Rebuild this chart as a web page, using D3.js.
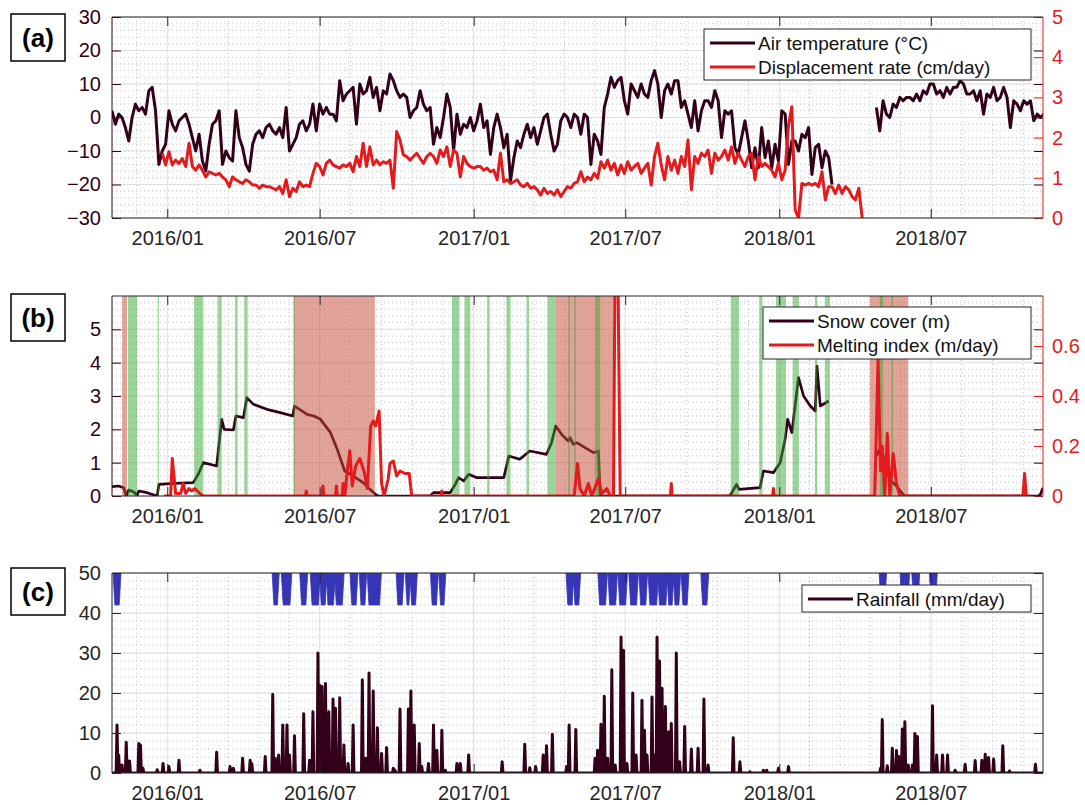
<!DOCTYPE html>
<html>
<head>
<meta charset="utf-8">
<script src="https://cdn.jsdelivr.net/npm/d3@7"></script>
<style>
  body { margin: 0; background: #fff; }
  svg { display: block; }
</style>
</head>
<body>
<svg id="chart" width="1085" height="805"></svg>
<script>
// All day numbers are days since 2016-01-01.
const xTickLabels = ["2016/01", "2016/07", "2017/01", "2017/07", "2018/01", "2018/07"];

// (a) air temperature, sampled every 4 days, in two runs (gap in spring 2018)
const tempStartA = -66;
const tempA = [
  2, -2, 1, 0, -3, -7, 0, 4, 2, 3, 1, 8, 9, 2, -14, -10, -8, 2, -2, -4,
  -1, 0, 1, -2, -6, -10, -5, -13, -16, -8, -2, -1, 2, -14, -10, -12, -13, 2, -6, -9,
  -14, -16, -8, -5, -4, -6, -3, -2, -4, -5, -3, -6, 3, -10, -8, -6, -2, -1, -4, -2,
  4, -4, 4, 1, 3, 1, 1, -1, 11, 5, 7, 8, 9, -2, 10, 7, 8, 12, 6, 9,
  2, 8, 7, 13, 11, 8, 6,
  7, 6, 0, 2, 3, 8, 4, 2, 3, -8, -3, -6, 0, 7, 3, -10, 1, -5, -2, -3,
  0, -4, -1, 4, -3, -1, -11, -3, 1, -3, -9, -5, -19, -12, -7, -9, -5, -2, -6, -3,
  -8, -4, 0, 1, -5, -10, -8, -1, 1, 0, -3, 1, 0, -5, 1, 0, -14, -5, -7, -11,
  3, 7, 12, 9, 11, 12, 5, 1, 10, 8, 6, 10, 7, 6, 11, 14, 10, 0, 8, 10,
  7, 11, 11, 3, 5, 1, -3, 5, -4, 2, 5, 5, 3, 8, 5, -6, 2, 1, 2, -9,
  -11, -6, -1, -7, -15, -9, -15, -3, -12, -7, -15, -8, -13, 2,
  1, -14, -7, -7, -10, -5, -6, -3, -17, -9, -8, -15, -10, -12, -20
];
const tempStartB = 847;
const tempB = [
  3, -4, 5, 1, 0, 4, 3, 6, 5, 6, 6, 5, 7, 5, 8, 7, 10, 10, 7, 8,
  6, 9, 7, 9, 9, 11, 10, 7, 7, 8, 5, 8, 1, 7, 6, 9, 5, 6, 9, 6,
  -3, 5, 4, 2, 5, 4, 5, -1, 1, 0, 1
];
const tempStep = 4;

// (a) displacement rate (cm/day), every 4 days
const dispStart = -6;
const disp = [
  1.61, 1.32, 1.65, 1.32, 1.44, 1.36, 1.48, 1.28, 1.86, 1.28, 1.19, 1.32, 1.19, 1.02, 1.15, 1.11, 1.07, 1.11, 1.02, 0.95,
  0.78, 1.02, 0.95, 0.90, 0.86, 0.95, 0.90, 0.82, 0.82, 0.74, 0.82, 0.78, 0.78, 0.74, 0.70, 0.78, 0.61, 0.95, 0.53, 0.74,
  0.66, 0.90, 0.78, 0.82, 0.78, 1.11, 1.36, 1.28, 1.07, 1.36, 1.44, 1.32, 1.28, 1.24, 1.32, 1.28, 1.36, 1.15, 1.53, 1.28,
  1.86, 1.28, 1.77, 1.32, 1.44, 1.32, 1.40, 1.36, 1.44, 0.74, 2.15, 1.94,
  1.57, 1.53, 1.44, 1.53, 1.61, 1.48, 1.36, 1.53, 1.61, 1.53, 1.36, 1.69, 1.53, 1.77, 1.28, 1.69, 1.61, 1.02, 1.53, 1.36,
  1.28, 1.24, 1.28, 1.28, 1.19, 1.24, 1.15, 1.19, 0.95, 1.61, 0.90, 0.95, 0.86, 0.90, 0.95, 0.82, 0.78, 0.86, 0.74, 0.78,
  0.70, 0.57, 0.74, 0.61, 0.66, 0.57, 0.70, 0.53, 0.66, 0.78, 0.74, 0.86, 0.90, 1.15, 0.90, 1.02, 0.95, 1.11, 0.99, 1.40,
  1.24, 1.44, 1.19, 1.36, 1.07, 1.32, 1.11, 1.40, 1.19, 1.28, 1.36, 1.11, 1.24, 1.36, 0.82, 1.53, 1.86, 1.32, 0.95, 1.53,
  1.19, 1.44, 1.11, 1.53, 1.28, 1.94, 0.70, 1.53, 1.36, 1.61, 1.53, 1.69, 1.11, 1.61, 1.44, 1.53, 1.69, 1.44, 1.77, 1.36,
  1.61, 1.44, 1.28, 1.53, 1.61, 0.95, 1.53, 1.28, 1.36, 1.28, 1.19, 1.02, 1.36, 0.95,
  1.19, 2.3, 2.77, 0.2, 0, 0.86, 0.82, 0.86, 0.82, 0.86, 0.78, 1.15, 0.45, 0.78, 0.78, 0.61, 0.82, 0.61, 0.78, 0.70,
  0.53, 0.45, 0.74, 0
];

// (b) snow cover (m), [day, value]; null = no data
const snow = [
  [-66, 0.28], [-58, 0.3], [-52, 0.25], [-49, 0], [-46, 0.18], [-40, 0.12], [-36, 0.02], [-34, 0.15], [-24, 0.1], [-12, 0],
  [-10, 0.35], [8, 0.38], [31, 0.4], [37, 0.65], [43, 1.0], [59, 0.9], [62, 1.6], [65, 2.3], [68, 2.0], [79, 1.98],
  [82, 2.4], [91, 2.35], [95, 2.95], [103, 2.75], [119, 2.6], [135, 2.5], [150, 2.4], [152, 2.7], [167, 2.45], [175, 2.4],
  [183, 2.3], [195, 1.9], [203, 1.4], [212, 0.75], [222, 0.6], [234, 0.4], [242, 0.2], [250, 0.02], [253, 0], [314, 0],
  [318, 0.1], [338, 0.1], [344, 0.35], [348, 0.55], [354, 0.45], [360, 0.65], [370, 0.55], [402, 0.55], [408, 1.2], [421, 1.1],
  [433, 1.35], [453, 1.25], [459, 1.6], [464, 2.1], [471, 1.85], [479, 1.65], [481, 1.75], [485, 1.55], [489, 1.6], [509, 1.3],
  [515, 1.35], [517, 0], [672, 0], [680, 0.35], [683, 0.2], [708, 0.25], [712, 0.75], [724, 0.7], [732, 1.0], [738, 1.7],
  [741, 2.3], [746, 1.9], [754, 3.55], [760, 3.0], [768, 2.7], [774, 2.55], [776, 3.9], [780, 2.7], [790, 2.85], [820, null],
  [847, 1.2], [853, 1.5], [857, 0.9], [863, 0.5], [871, 0.3], [877, 0.1], [881, 0], [1040, 0], [1043, 0.05], [1046, 0.25]
];

// (b) melting index (m/day), [day, value]
const melt = [
  [-4, 0], [4, 0], [6, 0.15], [10, 0.01], [16, 0.01], [19, 0.05], [22, 0.01], [26, 0.03], [29, 0.02], [33, 0.03],
  [39, 0.01], [43, 0], [165, 0], [166, 0.02], [167, 0], [185, 0], [186, 0.04], [187, 0], [201, 0], [202, 0.04],
  [203, 0], [209, 0], [210, 0.05], [212, 0], [215, 0.1], [218, 0.18], [221, 0.04], [225, 0.12], [230, 0.15], [235, 0.1],
  [239, 0.03], [243, 0.28], [246, 0.3], [249, 0.28], [253, 0.34], [256, 0.05], [259, 0], [264, 0.07], [266, 0.13], [270, 0.14],
  [274, 0.08], [278, 0.1], [284, 0.09], [289, 0.09], [292, 0], [327, 0], [328, 0.02], [329, 0], [486, 0], [490, 0.13],
  [493, 0.03], [498, 0], [503, 0.05], [507, 0], [515, 0.07], [519, 0.01], [525, 0.03], [529, 0], [533, 0], [535, 1.0],
  [538, 1.0], [541, 0], [601, 0], [602, 0.05], [603, 0], [723, 0], [724, 0.03], [725, 0], [845, 0], [849, 0.55],
  [852, 0.1], [854, 0.2], [857, 0], [860, 0.25], [863, 0], [867, 0.17], [871, 0.05], [875, 0], [1022, 0], [1024, 0.09],
  [1026, 0], [1030, 0]
];

// (b) shaded periods, [first day, last day]
const meltPeriods = [[-54, -48], [151, 248], [464, 533], [839, 885]];
const snowfallPeriods = [
  [-47, -36], [-11.5, -10], [32, 43], [60, 65], [81, 84], [92, 96], [151, 152], [340, 349], [355, 362], [382, 385],
  [405, 410], [429, 432], [454, 464], [479, 481], [486, 488], [511, 517], [673, 683], [707, 711], [727, 739], [747, 754.5],
  [773.6, 776.4], [785.5, 791.5], [851, 855], [865, 867]
];

// (c) rainfall (mm/day) on rainy days, [day, value]
const rainfall = [
  [-60, 12], [-58, 4.5], [-54, 2], [-49, 7.7], [-45, 3], [-34, 7.4], [-32, 7], [-29, 1.2], [-12, 0.8], [-5, 2.4],
  [2, 1.6], [14, 3.2], [39, 0.7], [59, 5.2], [75, 1.6], [79, 1.2], [90, 3.7], [99, 3.2], [101, 2.4], [117, 4.1],
  [126, 19.7], [129, 3.7], [133, 4.5], [138, 12], [143, 12], [146, 4.5], [152, 9.3], [163, 14.8], [170, 3.2], [174, 15.3],
  [180, 30], [182, 22], [185, 21.6], [189, 22.4], [193, 15.3], [198, 18.5], [201, 16.2], [206, 18.8], [211, 7], [216, 2.4],
  [222, 12], [233, 23.3], [237, 3.7], [241, 25], [246, 20.5], [251, 11.3], [256, 4.9], [262, 6.4], [270, 1.2], [272, 0.7],
  [278, 16], [288, 16], [291, 20.5], [295, 12], [301, 7.4], [304, 1.6], [312, 2.4], [318, 12], [322, 5.7], [328, 10.7],
  [332, 0.7], [346, 2.4], [350, 2.4], [360, 4.5], [400, 2.8], [427, 7.2], [433, 1.3], [440, 1.6], [449, 4.5], [453, 6.8],
  [460, 9.7], [477, 1.6], [480, 12], [488, 10.9], [511, 3.7], [514, 5.7], [518, 12.2], [522, 19.2], [526, 3.7], [531, 25.8],
  [535, 2], [542, 34], [545, 30.7], [549, 2.4], [556, 20], [560, 4.5], [567, 18.2], [570, 10.7], [573, 4.5], [579, 19],
  [582, 4.5], [585, 34], [588, 28], [591, 21.2], [595, 16.6], [599, 10.3], [602, 12.4], [608, 30], [612, 2.8], [618, 11.6],
  [626, 6], [634, 6.2], [641, 18.5], [646, 2], [676, 8.8], [684, 2.8], [696, 0.3], [712, 0.7], [716, 0.7], [730, 1.2],
  [742, 1.6], [852, 1.2], [854, 13.4], [860, 1.8], [866, 6.2], [871, 5.6], [874, 4.1], [878, 11], [881, 12.8], [885, 2],
  [890, 2], [893, 9.9], [896, 9.1], [914, 16.8], [919, 4.5], [926, 4.5], [932, 4.5], [941, 0.7], [953, 2.2], [965, 3.1],
  [973, 3.2], [977, 4.7], [981, 3.9], [987, 3.5], [998, 6.8], [1006, 0.5], [1037, 2.2]
];
// (c) rain event markers, drawn between markLow and markHigh (mm/day axis)
const rainEventStart = [-64, 126, 137, 159, 171.5, 182.5, 190.5, 200.5, 219, 230, 239.5, 274, 285, 290.5, 315, 325, 477, 485.5,
  515, 527, 539, 552, 564, 575, 586.5, 597.5, 605, 614.4, 638, 851, 876, 880.5, 890, 911];
const rainEventEnd = [-56, 133, 148, 167, 182, 190, 200, 210.5, 227, 237.5, 255, 282, 290, 298, 323, 332, 485, 493,
  525, 537, 549, 562, 573, 586, 597, 604.5, 612.5, 622.4, 646, 858.4, 880, 886, 898, 919];
const markLow = 42, markHigh = 50;

// ---------------------------------------------------------------
const FONT = '"Liberation Sans", Arial, Helvetica, sans-serif';
const dark = "#33001a";
const red = "#e41a1c";
const blue = "#3535b5";
const ink = "#262626";

const svg = d3.select("#chart").attr("font-family", FONT);
const origin = new Date(2016, 0, 1);
const day = (d) => new Date(+origin + d * 864e5);

const left = 112, right = 1043;
const x = d3.scaleTime().domain([day(-66), day(1046)]).range([left, right]);

const majors = xTickLabels.map(d3.timeParse("%Y/%m"));
const ext = [d3.timeMonth.offset(majors[0], -6), ...majors, d3.timeMonth.offset(majors[majors.length - 1], 6)];
const minors = [];
for (let i = 0; i < ext.length - 1; i++)
  for (let k = 1; k < 5; k++) {
    const t = new Date(+ext[i] + ((ext[i + 1] - ext[i]) * k) / 5);
    if (t > x.domain()[0] && t < x.domain()[1]) minors.push(t);
  }

const yFmt = d3.format("~g");

function panel({ id, top, bottom, yL, leftTicks, leftMinor, leftColor, labelColor, yR, rightTicks, rightColor }) {
  const g = svg.append("g");
  // grid
  const grid = g.append("g");
  grid.selectAll("line.vmin").data(minors).join("line").attr("class", "vmin")
    .attr("x1", (d) => x(d)).attr("x2", (d) => x(d)).attr("y1", top).attr("y2", bottom);
  grid.selectAll("line.hmin").data(leftMinor).join("line").attr("class", "hmin")
    .attr("x1", left).attr("x2", right).attr("y1", (d) => yL(d)).attr("y2", (d) => yL(d));
  grid.selectAll("line.vmin, line.hmin")
    .attr("stroke", "#b5b5b5").attr("stroke-width", 0.8).attr("stroke-dasharray", "1,3");
  grid.selectAll("line.vmaj").data(majors).join("line").attr("class", "vmaj")
    .attr("x1", (d) => x(d)).attr("x2", (d) => x(d)).attr("y1", top).attr("y2", bottom)
    .attr("stroke", "#dedede");
  grid.selectAll("line.hmaj").data(leftTicks).join("line").attr("class", "hmaj")
    .attr("x1", left).attr("x2", right).attr("y1", (d) => yL(d)).attr("y2", (d) => yL(d))
    .attr("stroke", "#dedede");

  svg.append("clipPath").attr("id", "clip-" + id)
    .append("rect").attr("x", left).attr("y", top).attr("width", right - left).attr("height", bottom - top);
  const data = g.append("g").attr("clip-path", `url(#clip-${id})`);
  const axes = g.append("g");

  const style = (sel, color, size = 20) => {
    sel.attr("font-family", FONT).attr("font-size", size).attr("color", color);
    sel.select(".domain").remove();
  };
  // left axis
  axes.append("g").attr("transform", `translate(${left},0)`)
    .call(d3.axisLeft(yL).tickValues(leftTicks).tickFormat(yFmt).tickSize(-9).tickPadding(11))
    .call((s) => style(s, leftColor))
    .call((s) => s.selectAll("text").attr("fill", labelColor));
  // mirrored left ticks on right edge
  axes.append("g").attr("transform", `translate(${right},0)`)
    .call(d3.axisRight(yL).tickValues(leftTicks).tickFormat("").tickSize(-9))
    .call((s) => style(s, leftColor));
  if (yR) {
    axes.append("g").attr("transform", `translate(${right},0)`)
      .call(d3.axisRight(yR).tickValues(rightTicks).tickFormat(yFmt).tickSize(-9).tickPadding(9))
      .call((s) => style(s, rightColor));
  }
  axes.append("g").attr("transform", `translate(0,${bottom})`)
    .call(d3.axisBottom(x).tickValues(majors).tickFormat(d3.timeFormat("%Y/%m")).tickSize(-9).tickPadding(13))
    .call((s) => style(s, ink));
  axes.append("g").attr("transform", `translate(0,${top})`)
    .call(d3.axisTop(x).tickValues(majors).tickFormat("").tickSize(-9))
    .call((s) => style(s, ink));
  // frame
  axes.append("line").attr("x1", left).attr("x2", right).attr("y1", top).attr("y2", top).attr("stroke", ink);
  axes.append("line").attr("x1", left).attr("x2", right).attr("y1", bottom).attr("y2", bottom).attr("stroke", ink);
  axes.append("line").attr("x1", left).attr("x2", left).attr("y1", top).attr("y2", bottom).attr("stroke", leftColor);
  axes.append("line").attr("x1", right).attr("x2", right).attr("y1", top).attr("y2", bottom)
    .attr("stroke", yR ? rightColor : ink);
  return { g, data, axes };
}

function legend(x0, y0, w, h, items) {
  const g = svg.append("g");
  g.append("rect").attr("x", x0).attr("y", y0).attr("width", w).attr("height", h)
    .attr("fill", "#fff").attr("stroke", ink);
  items.forEach((it, i) => {
    const cy = y0 + 14 + i * 24;
    g.append("line").attr("x1", x0 + 6).attr("x2", x0 + 51).attr("y1", cy).attr("y2", cy)
      .attr("stroke", it.color).attr("stroke-width", 3);
    g.append("text").attr("x", x0 + 54).attr("y", cy).attr("dy", "0.35em")
      .attr("font-size", 19).attr("fill", "#111").text(it.label);
  });
}

function tag(y, text) {
  svg.append("rect").attr("x", 11).attr("y", y).attr("width", 54).attr("height", 47)
    .attr("fill", "#fff").attr("stroke", "#000").attr("stroke-width", 1.5);
  svg.append("text").attr("x", 38).attr("y", y + 24).attr("text-anchor", "middle").attr("dy", "0.35em")
    .attr("font-weight", "bold").attr("font-size", 26).attr("fill", "#000").text(text);
}

const series = (start, vals) => vals.map((v, i) => ({ t: day(start + i * tempStep), v }));
const pairs = (arr) => arr.map(([d, v]) => ({ t: day(d), v }));

// ---------- (a) ----------
{
  const yL = d3.scaleLinear([-30, 30], [218, 17]);
  const yR = d3.scaleLinear([0, 5], [218, 17]);
  const p = panel({
    id: "a", top: 17, bottom: 218, yL, leftTicks: d3.range(-30, 31, 10), leftMinor: d3.range(-28, 30, 2),
    leftColor: dark, labelColor: dark, yR, rightTicks: d3.range(0, 6), rightColor: red
  });
  const lineL = d3.line().x((d) => x(d.t)).y((d) => yL(d.v));
  const lineR = d3.line().x((d) => x(d.t)).y((d) => yR(d.v));
  p.data.selectAll("path.temp").data([series(tempStartA, tempA), series(tempStartB, tempB)]).join("path")
    .attr("class", "temp").attr("d", lineL).attr("fill", "none").attr("stroke", dark)
    .attr("stroke-width", 3).attr("stroke-linejoin", "round");
  p.data.append("path").datum(series(dispStart, disp)).attr("d", lineR).attr("fill", "none")
    .attr("stroke", red).attr("stroke-width", 3).attr("stroke-linejoin", "round");
  legend(704, 29, 327, 51, [
    { label: "Air temperature (°C)", color: dark },
    { label: "Displacement rate (cm/day)", color: red }
  ]);
  tag(14, "(a)");
}

// ---------- (b) ----------
{
  const yL = d3.scaleLinear([0, 6], [496, 296]);
  const yR = d3.scaleLinear([0, 0.8], [496, 296]);
  const p = panel({
    id: "b", top: 296, bottom: 496, yL, leftTicks: d3.range(0, 6), leftMinor: d3.range(1, 30).map((d) => d / 5),
    leftColor: dark, labelColor: dark, yR, rightTicks: [0, 0.2, 0.4, 0.6], rightColor: red
  });
  p.data.append("path").datum(pairs(snow))
    .attr("d", d3.line().defined((d) => d.v != null).x((d) => x(d.t)).y((d) => yL(d.v)))
    .attr("fill", "none").attr("stroke", dark).attr("stroke-width", 2.7).attr("stroke-linejoin", "round");
  p.data.selectAll("rect.meltp").data(meltPeriods).join("rect").attr("class", "meltp")
    .attr("x", (d) => x(day(d[0]))).attr("width", (d) => x(day(d[1])) - x(day(d[0])))
    .attr("y", 296).attr("height", 200).attr("fill", "#c54a33").attr("fill-opacity", 0.5);
  p.data.selectAll("rect.snowp").data(snowfallPeriods).join("rect").attr("class", "snowp")
    .attr("x", (d) => x(day(d[0]))).attr("width", (d) => Math.max(1.2, x(day(d[1])) - x(day(d[0]))))
    .attr("y", 296).attr("height", 200).attr("fill", "#2fa82f").attr("fill-opacity", 0.48);
  p.data.append("path").datum(pairs(melt))
    .attr("d", d3.line().x((d) => x(d.t)).y((d) => yR(d.v)))
    .attr("fill", "none").attr("stroke", red).attr("stroke-width", 3).attr("stroke-linejoin", "round");
  legend(763, 307, 268, 52, [
    { label: "Snow cover (m)", color: dark },
    { label: "Melting index (m/day)", color: red }
  ]);
  tag(294, "(b)");
}

// ---------- (c) ----------
{
  const yL = d3.scaleLinear([0, 50], [773, 573]);
  const p = panel({
    id: "c", top: 573, bottom: 773, yL, leftTicks: d3.range(0, 51, 10), leftMinor: d3.range(2, 50, 2),
    leftColor: ink, labelColor: ink
  });
  const pts = [[-66, 0]];
  rainfall.forEach(([d, v]) => pts.push([d - 1, 0], [d, v], [d + 1, 0]));
  pts.push([1046, 0]);
  p.data.append("path").datum(pts)
    .attr("d", d3.line().x((d) => x(day(d[0]))).y((d) => yL(d[1])))
    .attr("fill", "none").attr("stroke", dark).attr("stroke-width", 3).attr("stroke-linejoin", "round");
  const events = rainEventStart.map((s, i) => [s, rainEventEnd[i]]);
  p.data.selectAll("path.ev").data(events).join("path").attr("class", "ev")
    .attr("d", ([s, e]) => {
      const x0 = x(day(s)), x1 = x(day(e));
      const inset = Math.min(1.2, (x1 - x0) / 2 - 0.6);
      return `M${x0 - 0.6},${yL(markHigh)}L${x1 + 0.6},${yL(markHigh)}L${x1 - inset},${yL(markLow)}L${x0 + inset},${yL(markLow)}Z`;
    })
    .attr("fill", blue).attr("stroke", blue).attr("stroke-width", 0.8);
  legend(802, 585, 229, 27, [{ label: "Rainfall (mm/day)", color: dark }]);
  tag(568, "(c)");
}
</script>
</body>
</html>
